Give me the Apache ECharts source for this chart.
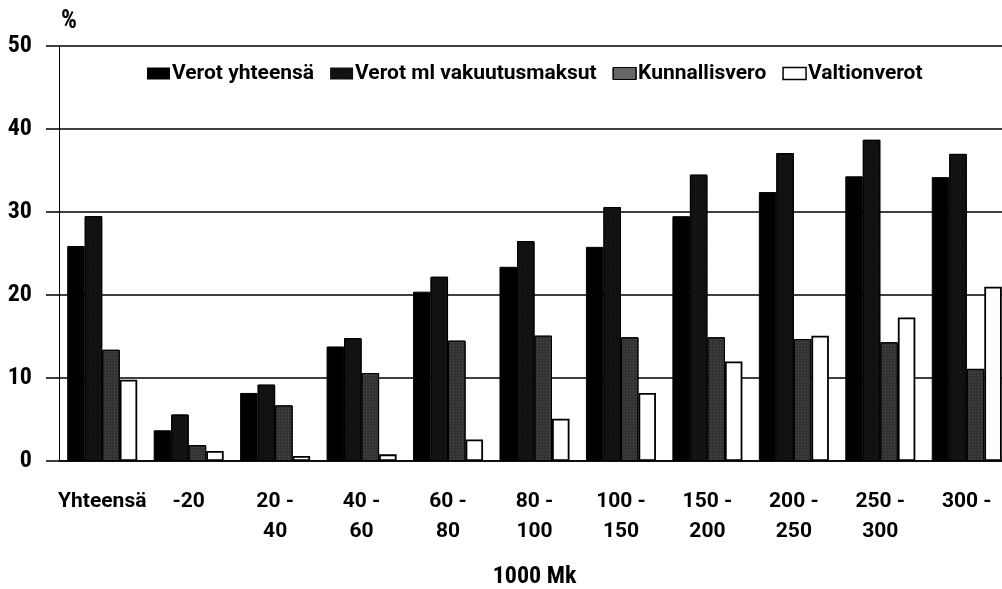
<!DOCTYPE html>
<html>
<head>
<meta charset="utf-8">
<script src="https://cdn.jsdelivr.net/npm/echarts@6/dist/echarts.min.js"></script>
<style>
  html, body { margin: 0; padding: 0; background: #fff; overflow: hidden; }
  #main { width: 1012px; height: 589px; }
</style>
</head>
<body>
<div id="main"></div>
<script>
var categories = ['Yhteensä', '-20', '20 -\n40', '40 -\n60', '60 -\n80', '80 -\n100', '100 -\n150', '150 -\n200', '200 -\n250', '250 -\n300', '300 -'];
var verotYhteensa = [25.9, 3.7, 8.2, 13.8, 20.4, 23.4, 25.8, 29.5, 32.4, 34.3, 34.2];
var verotMlVakuutus = [29.5, 5.6, 9.2, 14.8, 22.2, 26.5, 30.6, 34.5, 37.1, 38.7, 37.0];
var kunnallisvero = [13.4, 1.9, 6.7, 10.6, 14.5, 15.1, 14.9, 14.9, 14.7, 14.3, 11.1];
var valtionverot = [9.8, 1.2, 0.6, 0.8, 2.6, 5.1, 8.2, 12.0, 15.1, 17.3, 21.0];

var wideFont = 'Roboto, "Roboto Condensed", sans-serif';
var narrowFont = '"Roboto Condensed", Roboto, sans-serif';

var chart = echarts.init(document.getElementById('main'));
chart.setOption({
    backgroundColor: '#fff',
    animation: false,
    textStyle: { fontFamily: wideFont, color: '#000' },
    legend: {
        left: 142,
        top: 58,
        icon: 'rect',
        itemWidth: 23,
        itemHeight: 12,
        itemGap: 16,
        textStyle: { fontFamily: wideFont, fontSize: 21, fontWeight: 'bold', color: '#000', padding: [0, 0, 0, -3] },
        data: [
            { name: 'Verot yhteensä', itemStyle: { color: '#000', borderWidth: 0, decal: null } },
            { name: 'Verot ml vakuutusmaksut', itemStyle: { color: '#111', borderWidth: 0, decal: null } },
            { name: 'Kunnallisvero', itemStyle: { color: '#666', borderColor: '#000', borderWidth: 1 } },
            { name: 'Valtionverot', itemStyle: { color: '#fff', borderColor: '#000', borderWidth: 1.5 } }
        ]
    },
    grid: { left: 59, top: 46, bottom: 128, right: 2, outerBoundsMode: 'none', containLabel: false },
    xAxis: {
        type: 'category',
        data: categories,
        name: '1000 Mk',
        nameLocation: 'middle',
        nameGap: 104,
        nameTextStyle: { fontFamily: narrowFont, fontSize: 24, fontWeight: 'bold', color: '#000' },
        axisLine: { lineStyle: { color: '#000', width: 1.5 } },
        axisTick: { alignWithLabel: true, length: 14, lineStyle: { color: '#000', width: 1.2 } },
        axisLabel: { fontFamily: wideFont, fontSize: 21, fontWeight: 'bold', color: '#000', margin: 26, lineHeight: 30, interval: 0 }
    },
    yAxis: {
        type: 'value',
        min: 0,
        max: 50,
        interval: 10,
        name: '%',
        nameGap: 12,
        nameTextStyle: { fontFamily: narrowFont, fontSize: 25, fontWeight: 'bold', color: '#000', align: 'left', padding: [0, 0, 0, 2] },
        axisLine: { show: true, lineStyle: { color: '#000', width: 1 } },
        axisTick: { show: true, length: 13, lineStyle: { color: '#000', width: 1.5 } },
        axisLabel: { fontFamily: narrowFont, fontSize: 24, fontWeight: 'bold', color: '#000', margin: 27 },
        splitLine: { lineStyle: { color: '#000', width: 1.5 } }
    },
    series: [
        {
            name: 'Verot yhteensä', type: 'bar', data: verotYhteensa,
            barGap: '0%', barCategoryGap: '19%',
            itemStyle: { color: '#000', borderColor: '#000', borderWidth: 1 }
        },
        {
            name: 'Verot ml vakuutusmaksut', type: 'bar', data: verotMlVakuutus,
            itemStyle: {
                color: '#111', borderColor: '#000', borderWidth: 1,
                decal: { symbol: 'rect', symbolSize: 0.5, color: 'rgba(150,150,150,0.55)', dashArrayX: [1, 4], dashArrayY: [1, 5], rotation: 0 }
            }
        },
        {
            name: 'Kunnallisvero', type: 'bar', data: kunnallisvero,
            itemStyle: {
                color: '#333', borderColor: '#000', borderWidth: 1,
                decal: { symbol: 'rect', symbolSize: 0.6, color: 'rgba(170,170,170,0.8)', dashArrayX: [1, 2], dashArrayY: [1, 2], rotation: 0 }
            }
        },
        {
            name: 'Valtionverot', type: 'bar', data: valtionverot,
            itemStyle: { color: '#fff', borderColor: '#000', borderWidth: 1.8 }
        }
    ]
});
</script>
</body>
</html>
